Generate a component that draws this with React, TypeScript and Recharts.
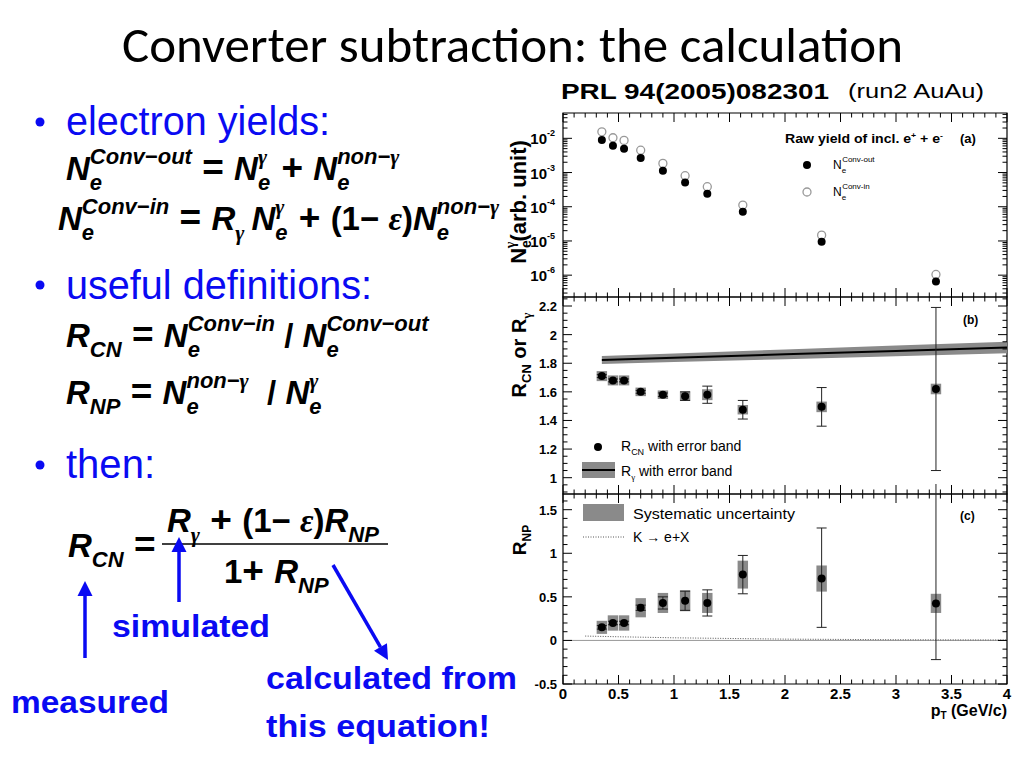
import React from 'react'
import {
  Area,
  ComposedChart,
  ErrorBar,
  Line,
  ReferenceArea,
  ReferenceLine,
  Scatter,
  XAxis,
  YAxis,
} from 'recharts'

// pT bin centres (GeV/c), shared by the three panels
const ptBins = [0.35, 0.45, 0.55, 0.7, 0.9, 1.1, 1.3, 1.62, 2.33, 3.36]

// (a) raw yields
const yieldConvOut = [8.9e-3, 6.1e-3, 5.0e-3, 2.65e-3, 1.13e-3, 5.1e-4, 2.4e-4, 7.1e-5, 9.5e-6, 6.5e-7]
const yieldConvIn = [1.55e-2, 1.04e-2, 8.7e-3, 4.5e-3, 1.85e-3, 8.1e-4, 3.85e-4, 1.12e-4, 1.48e-5, 1.05e-6]

// (b) R_CN with stat + sys, R_gamma band
const rcnValues = [1.71, 1.68, 1.68, 1.6, 1.58, 1.57, 1.58, 1.475, 1.495, 1.62]
const rcnStat = [0.01, 0.01, 0.01, 0.01, 0.012, 0.03, 0.06, 0.065, 0.135, 0.57]
const rcnSys = [0.035, 0.035, 0.035, 0.03, 0.03, 0.033, 0.038, 0.033, 0.037, 0.037]
const rGammaPt = [0.35, 1, 2, 3, 4]
const rGamma = [1.822, 1.838, 1.862, 1.886, 1.91]
const rGammaErr = [0.028, 0.03, 0.034, 0.038, 0.041]

// (c) R_NP
const rnpValues = [0.15, 0.2, 0.2, 0.375, 0.43, 0.455, 0.43, 0.755, 0.71, 0.425]
const rnpStatLow = [0.02, 0.02, 0.02, 0.03, 0.07, 0.11, 0.15, 0.22, 0.56, 0.645]
const rnpStatHigh = [0.02, 0.02, 0.02, 0.03, 0.07, 0.11, 0.15, 0.22, 0.58, 1.4]
const rnpSys = [0.075, 0.088, 0.088, 0.11, 0.115, 0.12, 0.115, 0.16, 0.15, 0.11]
const kaonPt = [0.2, 0.5, 1, 2, 3, 4]
const kaonRnp = [0.05, 0.042, 0.03, 0.015, 0.008, 0.005]
const sysHalfWidth = 0.047

// axes
const xMajorLabels = ['0', '0.5', '1', '1.5', '2', '2.5', '3', '3.5', '4']
const logMajorExp = ['-7', '-6', '-5', '-4', '-3', '-2']
const rcnMajorLabels = ['1', '1.2', '1.4', '1.6', '1.8', '2', '2.2']
const rnpMajorLabels = ['-0.5', '0', '0.5', '1', '1.5']

const yieldDomain = [2.3e-7, 0.055]
const rcnDomain = [0.886, 2.263]
const rnpDomain = [-0.5, 1.68]

const xTicks = Array.from({ length: 41 }, (_, i) => i / 10)
const logTicks: number[] = []
logMajorExp.forEach((e) => {
  for (let k = 1; k <= 9; k++) {
    const v = k * Math.pow(10, Number(e))
    if (v >= yieldDomain[0] && v <= yieldDomain[1]) logTicks.push(v)
  }
})
const rcnTicks = Array.from({ length: 28 }, (_, i) => +(0.9 + i * 0.05).toFixed(2))
const rnpTicks = Array.from({ length: 22 }, (_, i) => +(-0.5 + i * 0.1).toFixed(1))

const SANS = '"Liberation Sans", Arial, Helvetica, sans-serif'
const SERIF = '"Liberation Serif", "DejaVu Serif", serif'
const BLUE = '#0a0af2'
const GREY = '#8a8a8a'

const outRows = ptBins.map((pt, i) => ({ pt, v: yieldConvOut[i] }))
const inRows = ptBins.map((pt, i) => ({ pt, v: yieldConvIn[i] }))
const rcnRows = ptBins.map((pt, i) => ({ pt, v: rcnValues[i], stat: rcnStat[i] }))
const rgRows = rGammaPt.map((pt, i) => ({
  pt,
  v: rGamma[i],
  band: [rGamma[i] - rGammaErr[i], rGamma[i] + rGammaErr[i]],
}))
const rnpRows = ptBins.map((pt, i) => ({ pt, v: rnpValues[i], stat: [rnpStatLow[i], rnpStatHigh[i]] }))
const kaonRows = kaonPt.map((pt, i) => ({ pt, v: kaonRnp[i] }))

const near = (a: number, b: number) => Math.abs(a - b) < 1e-6

function XTick(props: any) {
  const { x, y, payload, span, labels } = props
  const v = payload.value
  const major = near(v * 2, Math.round(v * 2))
  const len = major ? 9 : 4.5
  return (
    <g>
      <line x1={x} x2={x} y1={y} y2={y - len} stroke="#000" />
      <line x1={x} x2={x} y1={y - span} y2={y - span + len} stroke="#000" />
      {labels && major && (
        <text x={x} y={y + 15} textAnchor="middle" fontFamily={SANS} fontWeight="bold" fontSize={15}>
          {xMajorLabels[Math.round(v * 2)]}
        </text>
      )}
    </g>
  )
}

function LinTick(props: any) {
  const { x, y, payload, span, step, first, labels } = props
  const v = payload.value
  const idx = (v - first) / step
  const major = near(idx, Math.round(idx))
  const len = major ? 9 : 4.5
  return (
    <g>
      <line x1={x} x2={x + len} y1={y} y2={y} stroke="#000" />
      <line x1={x + span} x2={x + span - len} y1={y} y2={y} stroke="#000" />
      {major && labels[Math.round(idx)] !== undefined && (
        <text x={x - 6} y={y + 5} textAnchor="end" fontFamily={SANS} fontWeight="bold" fontSize={13}>
          {labels[Math.round(idx)]}
        </text>
      )}
    </g>
  )
}

function LogTick(props: any) {
  const { x, y, payload, span } = props
  const lg = Math.log10(payload.value)
  const major = near(lg, Math.round(lg))
  const len = major ? 9 : 4.5
  const exp = logMajorExp.find((e) => Number(e) === Math.round(lg))
  return (
    <g>
      <line x1={x} x2={x + len} y1={y} y2={y} stroke="#000" />
      <line x1={x + span} x2={x + span - len} y1={y} y2={y} stroke="#000" />
      {major && (
        <text x={x - 8} y={y + 6} textAnchor="end" fontFamily={SANS} fontWeight="bold" fontSize={15}>
          10
          <tspan dy={-8} fontSize={9}>
            {exp}
          </tspan>
        </text>
      )}
    </g>
  )
}

const filledDot = (p: any) => <circle cx={p.cx} cy={p.cy} r={4} fill="#000" />
const openDot = (p: any) => <circle cx={p.cx} cy={p.cy} r={4} fill="#fff" stroke="#999" strokeWidth={1.3} />

const axisCommon = { tickSize: 0, tickMargin: 0, axisLine: false, tickLine: false, interval: 0 as const, allowDataOverflow: true }

function PanelA() {
  return (
    <ComposedChart width={520} height={200} margin={{ top: 10, right: 13, bottom: 0, left: 0 }}>
      <XAxis dataKey="pt" type="number" domain={[0, 4]} ticks={xTicks} height={6} {...axisCommon} tick={<XTick span={184} labels={false} />} />
      <YAxis dataKey="v" type="number" scale="log" domain={yieldDomain} ticks={logTicks} width={63} {...axisCommon} tick={<LogTick span={444} />} />
      <ReferenceArea x1={0} x2={4} y1={yieldDomain[0]} y2={yieldDomain[1]} fill="none" stroke="#000" strokeWidth={1.2} />
      <Scatter data={inRows} shape={openDot} isAnimationActive={false} />
      <Scatter data={outRows} shape={filledDot} isAnimationActive={false} />
    </ComposedChart>
  )
}

function PanelB() {
  return (
    <ComposedChart width={520} height={213} margin={{ top: 10, right: 13, bottom: 0, left: 0 }}>
      <XAxis dataKey="pt" type="number" domain={[0, 4]} ticks={xTicks} height={6} {...axisCommon} tick={<XTick span={197} labels={false} />} />
      <YAxis dataKey="v" type="number" domain={rcnDomain} ticks={rcnTicks} width={63} {...axisCommon} tick={<LinTick span={444} step={0.2} first={1} labels={rcnMajorLabels} />} />
      <ReferenceArea x1={0} x2={4} y1={rcnDomain[0]} y2={rcnDomain[1]} fill="none" stroke="#000" strokeWidth={1.2} />
      <Area data={rgRows} dataKey="band" type="linear" fill={GREY} fillOpacity={1} stroke="none" isAnimationActive={false} />
      <Line data={rgRows} dataKey="v" type="linear" stroke="#000" strokeWidth={2} dot={false} isAnimationActive={false} />
      {ptBins.map((pt, i) => (
        <ReferenceArea key={i} x1={pt - sysHalfWidth} x2={pt + sysHalfWidth} y1={rcnValues[i] - rcnSys[i]} y2={rcnValues[i] + rcnSys[i]} fill={GREY} fillOpacity={1} stroke="none" />
      ))}
      <Scatter data={rcnRows} shape={filledDot} isAnimationActive={false}>
        <ErrorBar dataKey="stat" direction="y" width={5} stroke="#222" strokeWidth={1} />
      </Scatter>
    </ComposedChart>
  )
}

function PanelC() {
  return (
    <ComposedChart width={520} height={240} margin={{ top: 10, right: 13, bottom: 0, left: 0 }}>
      <XAxis dataKey="pt" type="number" domain={[0, 4]} ticks={xTicks} height={40} {...axisCommon} tick={<XTick span={190} labels />} />
      <YAxis dataKey="v" type="number" domain={rnpDomain} ticks={rnpTicks} width={63} {...axisCommon} tick={<LinTick span={444} step={0.5} first={-0.5} labels={rnpMajorLabels} />} />
      <ReferenceArea x1={0} x2={4} y1={rnpDomain[0]} y2={rnpDomain[1]} fill="none" stroke="#000" strokeWidth={1.2} />
      <ReferenceLine y={0} stroke="#999" strokeWidth={1} />
      <Line data={kaonRows} dataKey="v" type="linear" stroke="#555" strokeWidth={1} strokeDasharray="1 1.5" dot={false} isAnimationActive={false} />
      {ptBins.map((pt, i) => (
        <ReferenceArea key={i} x1={pt - sysHalfWidth} x2={pt + sysHalfWidth} y1={rnpValues[i] - rnpSys[i]} y2={rnpValues[i] + rnpSys[i]} fill={GREY} fillOpacity={1} stroke="none" />
      ))}
      <Scatter data={rnpRows} shape={filledDot} isAnimationActive={false}>
        <ErrorBar dataKey="stat" direction="y" width={5} stroke="#222" strokeWidth={1} />
      </Scatter>
    </ComposedChart>
  )
}

const FS = 33
const SS = 22
const OPS = 37
const gam = <tspan fontFamily={SERIF}>γ</tspan>
const eps = <tspan fontFamily={SERIF} fontStyle="italic">ε</tspan>

function ne(sup: React.ReactNode, y: number, dx = 0) {
  return (
    <>
      <tspan y={y} dx={dx}>N</tspan>
      <tspan y={y + 10} fontSize={SS}>e</tspan>
      <tspan y={y - 16} dx={-0.556 * SS} fontSize={SS}>{sup}</tspan>
    </>
  )
}
function rs(sub: React.ReactNode, y: number) {
  return (
    <>
      <tspan y={y}>R</tspan>
      <tspan y={y + 10} fontSize={SS}>{sub}</tspan>
    </>
  )
}
// operators are upright and a little wider than the letters
function op(s: string, y: number, dx = 0) {
  return (
    <tspan y={y} dx={dx} fontStyle="normal" fontSize={OPS}>
      {s}
    </tspan>
  )
}
function up(s: React.ReactNode, y: number) {
  return (
    <tspan y={y} fontStyle="normal">
      {s}
    </tspan>
  )
}

const mathText = { fontFamily: SANS, fontWeight: 'bold' as const, fontStyle: 'italic', fontSize: FS, style: { whiteSpace: 'pre' as const } }
const blueBold = { fontFamily: SANS, fontWeight: 'bold' as const, fontSize: 32, fill: BLUE }

function Arrow({ x1, y1, x2, y2 }: { x1: number; y1: number; x2: number; y2: number }) {
  const a = Math.atan2(y2 - y1, x2 - x1)
  const h = 15
  const w = 7.5
  const bx = x2 - h * Math.cos(a)
  const by = y2 - h * Math.sin(a)
  return (
    <g>
      <line x1={x1} y1={y1} x2={bx} y2={by} stroke={BLUE} strokeWidth={3.5} />
      <polygon
        points={`${x2},${y2} ${bx + w * Math.sin(a)},${by - w * Math.cos(a)} ${bx - w * Math.sin(a)},${by + w * Math.cos(a)}`}
        fill={BLUE}
      />
    </g>
  )
}

function SlideText() {
  return (
    <svg width={1024} height={768} style={{ position: 'absolute', left: 0, top: 0, pointerEvents: 'none' }}>
      <text x={122} y={62} fontFamily='Carlito, Lato, "Open Sans", sans-serif' fontSize={50} textLength={781} lengthAdjust="spacingAndGlyphs">
        Converter subtraction: the calculation
      </text>
      <text x={561} y={99} fontFamily={SANS} fontWeight="bold" fontSize={22} textLength={268} lengthAdjust="spacingAndGlyphs">
        PRL 94(2005)082301
      </text>
      <text x={848} y={98} fontFamily={SANS} fontSize={20} textLength={136} lengthAdjust="spacingAndGlyphs">
        (run2 AuAu)
      </text>

      <g fill={BLUE} fontFamily={SANS} fontSize={40}>
        <circle cx={40} cy={122} r={4.5} />
        <text x={66} y={135} textLength={264} lengthAdjust="spacingAndGlyphs">electron yields:</text>
        <circle cx={40} cy={285} r={4.5} />
        <text x={66} y={299} textLength={306} lengthAdjust="spacingAndGlyphs">useful definitions:</text>
        <circle cx={40} cy={465} r={4.5} />
        <text x={66} y={478} textLength={89} lengthAdjust="spacingAndGlyphs">then:</text>
      </g>

      <text x={66} y={180} {...mathText}>
        {ne('Conv−out', 180)}
        {op(' = ', 180)}
        {ne(gam, 180)}
        {op(' + ', 180, 4)}
        {ne(<>non−{gam}</>, 180)}
      </text>
      <text x={58} y={230} {...mathText}>
        {ne('Conv−in', 230)}
        {op(' = ', 230)}
        {rs(gam, 230)}
        {ne(gam, 230, 7)}
        {op(' + ', 230, 4)}
        {up('(1− ', 230)}
        {up(eps, 230)}
        {up(')', 230)}
        {ne(<>non−{gam}</>, 230)}
      </text>

      <text x={66} y={347} {...mathText}>
        {rs('CN', 347)}
        {op(' = ', 347)}
        {ne('Conv−in', 347)}
        {up(' / ', 347)}
        {ne('Conv−out', 347)}
      </text>
      <text x={66} y={404} {...mathText}>
        {rs('NP', 404)}
        {op(' = ', 404)}
        {ne(<>non−{gam}</>, 404)}
        {up('  / ', 404)}
        {ne(gam, 404)}
      </text>

      <text x={68} y={557} {...mathText}>
        {rs('CN', 557)}
        {op(' =', 557)}
      </text>
      <text x={167} y={532} {...mathText}>
        {rs(gam, 532)}
        {op(' + ', 532)}
        {up('(1− ', 532)}
        {up(eps, 532)}
        {up(')', 532)}
        {rs('NP', 532)}
      </text>
      <line x1={162} x2={388} y1={544} y2={544} stroke="#000" strokeWidth={1.5} />
      <text x={224} y={583} {...mathText}>
        {up('1', 583)}
        {op('+ ', 583)}
        {rs('NP', 583)}
      </text>

      <Arrow x1={85} y1={658} x2={85} y2={581} />
      <Arrow x1={179} y1={602} x2={179} y2={537} />
      <Arrow x1={333} y1={565} x2={388} y2={660} />
      <text x={112} y={637} {...blueBold} textLength={158} lengthAdjust="spacingAndGlyphs">simulated</text>
      <text x={11} y={713} {...blueBold} textLength={158} lengthAdjust="spacingAndGlyphs">measured</text>
      <text x={266} y={689} {...blueBold} textLength={251} lengthAdjust="spacingAndGlyphs">calculated from</text>
      <text x={266} y={737} {...blueBold} textLength={224} lengthAdjust="spacingAndGlyphs">this equation!</text>
    </svg>
  )
}

function PanelText() {
  return (
    <svg width={1024} height={768} style={{ position: 'absolute', left: 0, top: 0, pointerEvents: 'none' }} fontFamily={SANS}>
      {/* axis titles */}
      <text transform="translate(526,202) rotate(-90)" textAnchor="middle" fontWeight="bold" fontSize={22}>
        N<tspan dy={5} fontSize={14}>e</tspan>
        <tspan dy={-16} dx={-8} fontSize={14} fontFamily={SERIF}>γ</tspan>
        <tspan dy={11}>(arb. unit)</tspan>
      </text>
      <text transform="translate(526,355) rotate(-90)" textAnchor="middle" fontWeight="bold" fontSize={20}>
        R<tspan dy={5} fontSize={13}>CN</tspan>
        <tspan dy={-5}> or R</tspan>
        <tspan dy={5} fontSize={13} fontFamily={SERIF}>γ</tspan>
      </text>
      <text transform="translate(526,540) rotate(-90)" textAnchor="middle" fontWeight="bold" fontSize={19}>
        R<tspan dy={5} fontSize={12}>NP</tspan>
      </text>
      <text x={1007} y={716} textAnchor="end" fontWeight="bold" fontSize={16}>
        p<tspan dy={3} fontSize={10}>T</tspan>
        <tspan dy={-3}> (GeV/c)</tspan>
      </text>

      {/* (a) */}
      <text x={785} y={143} fontWeight="bold" fontSize={13} textLength={158} lengthAdjust="spacingAndGlyphs">
        Raw yield of incl. e<tspan dy={-5} fontSize={8}>+</tspan>
        <tspan dy={5}> + e</tspan>
        <tspan dy={-5} fontSize={8}>-</tspan>
      </text>
      <text x={960} y={143} fontWeight="bold" fontSize={13}>(a)</text>
      <circle cx={807} cy={165} r={4} fill="#000" />
      <text x={833} y={169} fontSize={12}>
        N<tspan dy={4} fontSize={8}>e</tspan>
        <tspan dy={-11} dx={-4} fontSize={8}>Conv-out</tspan>
      </text>
      <circle cx={807} cy={192} r={4} fill="#fff" stroke="#999" strokeWidth={1.3} />
      <text x={833} y={196} fontSize={12}>
        N<tspan dy={4} fontSize={8}>e</tspan>
        <tspan dy={-11} dx={-4} fontSize={8}>Conv-in</tspan>
      </text>

      {/* (b) */}
      <text x={963} y={324} fontWeight="bold" fontSize={12}>(b)</text>
      <circle cx={598} cy={447} r={4} fill="#000" />
      <text x={621} y={451} fontSize={14}>
        R<tspan dy={4} fontSize={9}>CN</tspan>
        <tspan dy={-4}> with error band</tspan>
      </text>
      <rect x={582} y={462} width={33} height={16} fill={GREY} />
      <line x1={582} x2={615} y1={470} y2={470} stroke="#000" strokeWidth={2} />
      <text x={621} y={476} fontSize={14}>
        R<tspan dy={4} fontSize={9} fontFamily={SERIF}>γ</tspan>
        <tspan dy={-4}> with error band</tspan>
      </text>

      {/* (c) */}
      <rect x={583} y={504} width={41} height={17} fill={GREY} />
      <text x={633} y={519} fontSize={14} textLength={162} lengthAdjust="spacingAndGlyphs">Systematic uncertainty</text>
      <line x1={583} x2={624} y1={537} y2={537} stroke="#555" strokeDasharray="1 1.5" />
      <text x={633} y={542} fontSize={14}>K → e+X</text>
      <text x={960} y={520} fontWeight="bold" fontSize={12}>(c)</text>
    </svg>
  )
}

export default function App() {
  return (
    <div style={{ position: 'absolute', left: 0, top: 0, width: 1024, height: 768, background: '#fff', overflow: 'hidden' }}>
      <div style={{ position: 'absolute', left: 500, top: 103 }}>
        <PanelA />
      </div>
      <div style={{ position: 'absolute', left: 500, top: 287 }}>
        <PanelB />
      </div>
      <div style={{ position: 'absolute', left: 500, top: 484 }}>
        <PanelC />
      </div>
      <PanelText />
      <SlideText />
    </div>
  )
}
